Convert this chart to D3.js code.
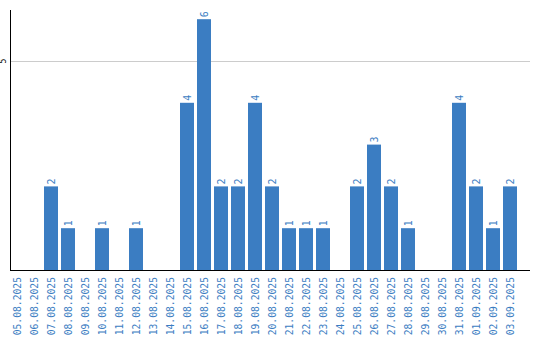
<!DOCTYPE html>
<html>
<head>
<meta charset="utf-8">
<script src="https://cdn.jsdelivr.net/npm/d3@7"></script>
<style>
  body { margin: 0; background: #fff; }
  svg { display: block; }
</style>
</head>
<body>
<div id="chart"></div>
<script>
// dates and counts
var dates = ["05.08.2025","06.08.2025","07.08.2025","08.08.2025","09.08.2025","10.08.2025",
             "11.08.2025","12.08.2025","13.08.2025","14.08.2025","15.08.2025","16.08.2025",
             "17.08.2025","18.08.2025","19.08.2025","20.08.2025","21.08.2025","22.08.2025",
             "23.08.2025","24.08.2025","25.08.2025","26.08.2025","27.08.2025","28.08.2025",
             "29.08.2025","30.08.2025","31.08.2025","01.09.2025","02.09.2025","03.09.2025"];
var counts = [0,0,2,1,0,1,0,1,0,0,4,6,2,2,4,2,1,1,1,0,2,3,2,1,0,0,4,2,1,2];
var yTicks = [5];
var yMax = 6.22;

var width = 540, height = 340;
var barColor = "#3b7dc2";

var svg = d3.select("#chart").append("svg")
    .attr("width", width).attr("height", height);

var x = d3.scaleBand().domain(dates).range([10, 517])
    .paddingInner(3 / 17).paddingOuter(0);
var y = d3.scaleLinear().domain([0, yMax]).range([270, 10]);

// grid line
svg.append("g").selectAll("line").data(yTicks).enter().append("line")
    .attr("x1", 11).attr("x2", 530)
    .attr("y1", function(d) { return Math.round(y(d)) + 0.5; })
    .attr("y2", function(d) { return Math.round(y(d)) + 0.5; })
    .attr("stroke", "#cccccc");

// bars
var data = dates.map(function(d, i) { return {date: d, value: counts[i]}; });
svg.append("g").selectAll("rect").data(data.filter(function(d) { return d.value > 0; }))
    .enter().append("rect")
    .attr("x", function(d) { return x(d.date); })
    .attr("width", x.bandwidth())
    .attr("y", function(d) { return y(d.value); })
    .attr("height", function(d) { return y(0) - y(d.value); })
    .attr("fill", barColor);

// value labels, rotated
svg.append("g").selectAll("text").data(data.filter(function(d) { return d.value > 0; }))
    .enter().append("text")
    .attr("transform", function(d) {
        return "translate(" + (x(d.date) + x.bandwidth() / 2 + 3.5) + "," + (y(d.value) - 2) + ") rotate(-90)";
    })
    .attr("text-anchor", "start")
    .attr("font-family", "DejaVu Sans Mono")
    .attr("font-size", "10px")
    .attr("fill", barColor)
    .text(function(d) { return d.value; });

// x labels
svg.append("g").selectAll("text").data(dates).enter().append("text")
    .attr("transform", function(d) {
        return "translate(" + (x(d) + x.bandwidth() / 2 + 3.5) + ",277) rotate(-90)";
    })
    .attr("text-anchor", "end")
    .attr("font-family", "DejaVu Sans Mono")
    .attr("font-size", "9.7px")
    .attr("fill", barColor)
    .text(function(d) { return d; });

// y tick labels
svg.append("g").selectAll("text").data(yTicks).enter().append("text")
    .attr("transform", function(d) { return "translate(6," + y(d) + ") rotate(-90)"; })
    .attr("text-anchor", "middle")
    .attr("font-family", "DejaVu Sans Mono")
    .attr("font-size", "8px")
    .attr("fill", "#000")
    .text(function(d) { return d; });

// axes lines
svg.append("line").attr("x1", 10.5).attr("x2", 10.5).attr("y1", 10).attr("y2", 270)
    .attr("stroke", "#000");
svg.append("line").attr("x1", 10).attr("x2", 530).attr("y1", 270.5).attr("y2", 270.5)
    .attr("stroke", "#000");
</script>
</body>
</html>
